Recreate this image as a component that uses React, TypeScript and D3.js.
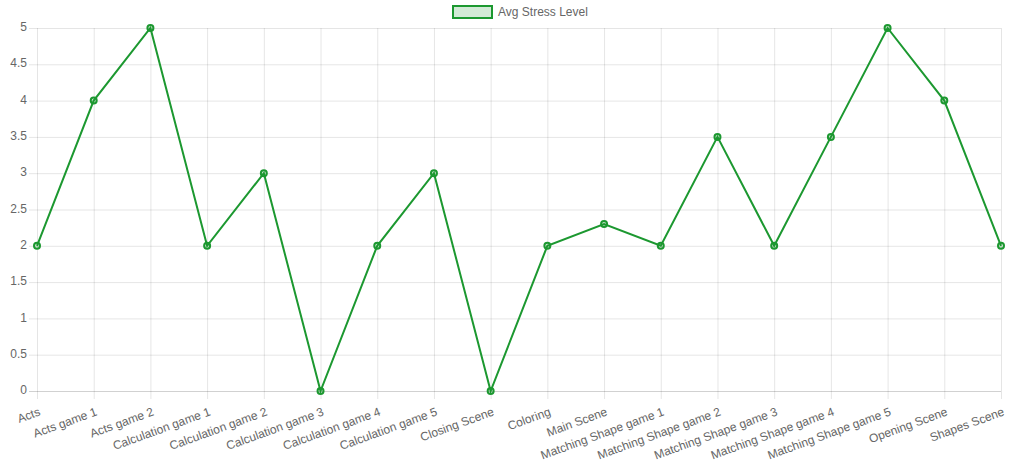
import React from "react";
import * as d3 from "d3";

const categories = [
  "Acts",
  "Acts game 1",
  "Acts game 2",
  "Calculation game 1",
  "Calculation game 2",
  "Calculation game 3",
  "Calculation game 4",
  "Calculation game 5",
  "Closing Scene",
  "Coloring",
  "Main Scene",
  "Matching Shape game 1",
  "Matching Shape game 2",
  "Matching Shape game 3",
  "Matching Shape game 4",
  "Matching Shape game 5",
  "Opening Scene",
  "Shapes Scene",
];
const stressValues = [2, 4, 5, 2, 3, 0, 2, 3, 0, 2, 2.3, 2, 3.5, 2, 3.5, 5, 4, 2];
const yTicks = [0, 0.5, 1, 1.5, 2, 2.5, 3, 3.5, 4, 4.5, 5];
const seriesName = "Avg Stress Level";

const W = 1010;
const H = 468;
const left = 37;
const right = 1001;
const top = 28;
const bottom = 391;
const font = "'Liberation Sans', Arial, Helvetica, sans-serif";
const green = "rgb(28,152,48)";
const greenFill = "rgba(28,152,48,0.2)";
const grid = "rgba(0,0,0,0.1)";
const textColor = "#666";

export default function App() {
  const x = d3
    .scalePoint<string>()
    .domain(categories)
    .range([left, right]);
  const y = d3.scaleLinear().domain([0, 5]).range([bottom, top]);

  const line = d3
    .line<number>()
    .x((_, i) => x(categories[i]) as number)
    .y((d) => y(d));

  return (
    <svg
      width={W}
      height={H}
      style={{ position: "absolute", left: 0, top: 0 }}
      fontFamily={font}
    >
      {/* horizontal grid + y ticks */}
      {yTicks.map((t) => (
        <g key={"y" + t}>
          <line
            x1={left - 8}
            x2={right}
            y1={y(t) + 0.5}
            y2={y(t) + 0.5}
            stroke={t === 0 ? "rgba(0,0,0,0.18)" : grid}
            strokeWidth={1}
          />
          <text
            x={left - 10}
            y={y(t)}
            textAnchor="end"
            dominantBaseline="middle"
            fontSize={12}
            fill={textColor}
          >
            {t}
          </text>
        </g>
      ))}
      {/* vertical grid + x labels */}
      {categories.map((c) => {
        const cx = x(c) as number;
        return (
          <g key={"x" + c}>
            <line
              x1={cx + 0.5}
              x2={cx + 0.5}
              y1={top}
              y2={bottom + 8}
              stroke={grid}
              strokeWidth={1}
            />
            <text
              transform={`translate(${cx + 3},${bottom + 21}) rotate(-20)`}
              textAnchor="end"
              dominantBaseline="middle"
              fontSize={12}
              fill={textColor}
            >
              {c}
            </text>
          </g>
        );
      })}
      {/* series line */}
      <path
        d={line(stressValues) as string}
        fill="none"
        stroke={green}
        strokeWidth={2}
      />
      {stressValues.map((v, i) => (
        <circle
          key={"p" + i}
          cx={x(categories[i]) as number}
          cy={y(v)}
          r={3}
          fill={greenFill}
          stroke={green}
          strokeWidth={2}
        />
      ))}
      {/* legend */}
      <rect
        x={453}
        y={6}
        width={39}
        height={12}
        fill={greenFill}
        stroke={green}
        strokeWidth={2}
      />
      <text
        x={498}
        y={12.5}
        dominantBaseline="middle"
        fontSize={12}
        fill={textColor}
      >
        {seriesName}
      </text>
    </svg>
  );
}
